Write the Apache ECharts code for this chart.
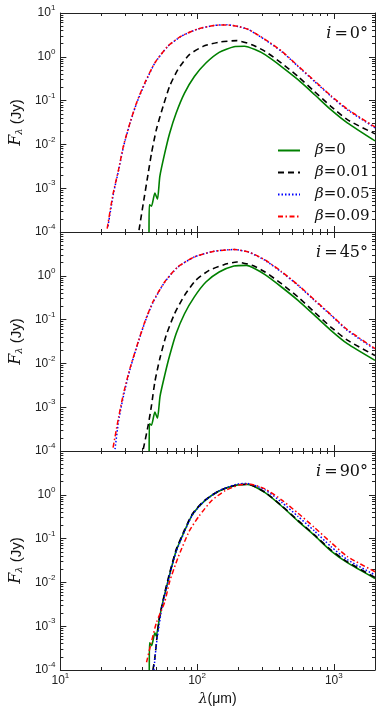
<!DOCTYPE html>
<html>
<head>
<meta charset="utf-8">
<script src="https://cdn.jsdelivr.net/npm/echarts@6/dist/echarts.min.js"></script>
<style>
  html, body { margin: 0; padding: 0; background: #fff; }
  #chart { width: 382px; height: 716px; }
</style>
</head>
<body>
<div id="chart"></div>
<script>
// [wavelength (um), flux (Jy)], one array per curve
const seriesNames = ['β=0', 'β=0.01', 'β=0.05', 'β=0.09'];
const panelLabels = ['0°', '45°', '90°'];

const xMajor = [10, 100, 1000];
const xMinor = [20, 30, 40, 50, 60, 70, 80, 90, 200, 300, 400, 500, 600, 700, 800, 900];
const yMajor = [1e-4, 1e-3, 1e-2, 1e-1, 1, 10];

// i = 0
const i0_b0 = [[44.5, 1.0e-4], [44.7, 4.2e-4], [46.4, 3.9e-4], [49.1, 7.8e-4], [51.3, 5.6e-4], [53.4, 1.86e-3],
  [58, 6.3e-3], [63, 0.018], [70.3, 0.052], [80.9, 0.148], [95.5, 0.355], [116, 0.72], [145, 1.26], [186, 1.70],
  [222, 1.74], [265, 1.46], [314, 1.12], [414, 0.60], [547, 0.30], [721, 0.138], [951, 0.062], [1255, 0.031], [2000, 0.012]];
const i0_b01 = [[37.6, 1.1e-4], [40.4, 4.5e-4], [43.9, 2.2e-3], [46.4, 6.3e-3], [50.4, 0.022], [56.4, 0.074],
  [63, 0.214], [72.3, 0.51], [87.8, 1.12], [113, 1.78], [149, 2.19], [195, 2.34], [252, 1.89], [314, 1.33],
  [414, 0.72], [547, 0.355], [721, 0.162], [951, 0.074], [1255, 0.0367], [2000, 0.0174]];
const i0_b05 = [[22.3, 1.35e-4], [24.5, 7.8e-4], [26.7, 2.6e-3], [29.0, 9.1e-3], [32.4, 0.031], [36.2, 0.089],
  [41.6, 0.25], [49.1, 0.72], [61.2, 1.74], [76.4, 2.93], [101, 4.3], [133, 5.2], [165, 5.4], [200, 4.9],
  [238, 4.17], [314, 2.45], [414, 1.33], [547, 0.605], [721, 0.275], [951, 0.126], [1255, 0.0617], [2000, 0.024]];
const i0_b09 = [[22.0, 1.2e-4], [24.3, 7.5e-4], [26.6, 2.6e-3], [29.0, 9.5e-3], [32.4, 0.032], [36.2, 0.092],
  [41.6, 0.26], [49.1, 0.73], [61.2, 1.76], [76.4, 2.95], [101, 4.3], [133, 5.2], [165, 5.35], [200, 4.95],
  [238, 4.2], [314, 2.5], [414, 1.36], [547, 0.62], [721, 0.285], [951, 0.13], [1255, 0.064], [2000, 0.025]];

// i = 45
const i45_b0 = [[44.6, 1.0e-4], [44.8, 4.2e-4], [46.4, 3.9e-4], [49.1, 7.8e-4], [51.3, 5.6e-4], [53.6, 1.8e-3],
  [58, 5.4e-3], [63, 0.0151], [70.3, 0.048], [80.9, 0.136], [95.5, 0.33], [116, 0.72], [145, 1.22], [186, 1.67],
  [230, 1.73], [265, 1.45], [314, 1.06], [414, 0.555], [547, 0.275], [721, 0.126], [951, 0.0569], [1255, 0.0282], [2000, 0.0117]];
const i45_b01 = [[40.4, 1.1e-4], [43.9, 3.9e-4], [46.4, 1.1e-3], [49.1, 3.8e-3], [53.4, 0.0129], [59.4, 0.0437],
  [68.4, 0.136], [80.9, 0.358], [97.8, 0.79], [122.4, 1.33], [157, 1.79], [195, 2.07], [252, 1.74], [314, 1.22],
  [414, 0.66], [547, 0.328], [721, 0.148], [951, 0.0676], [1255, 0.0339], [2000, 0.0151]];
const i45_b05 = [[25.1, 1.1e-4], [26.7, 5e-4], [29.0, 1.86e-3], [32.4, 7.6e-3], [37.2, 0.031], [41.6, 0.089],
  [47.7, 0.25], [58, 0.72], [72.3, 1.58], [95.5, 2.69], [133, 3.63], [186, 3.98], [238, 3.47], [314, 2.25],
  [414, 1.22], [547, 0.605], [721, 0.275], [951, 0.126], [1255, 0.0569], [2000, 0.0209]];
const i45_b09 = [[24.3, 1.2e-4], [26.7, 6e-4], [29.0, 2.1e-3], [32.4, 8e-3], [37.2, 0.032], [41.6, 0.092],
  [47.7, 0.26], [58, 0.73], [72.3, 1.6], [95.5, 2.7], [133, 3.63], [186, 3.98], [238, 3.5], [314, 2.3],
  [414, 1.25], [547, 0.62], [721, 0.283], [951, 0.13], [1255, 0.059], [2000, 0.0218]];

// i = 90
const i90_b0 = [[44.7, 1.0e-4], [44.8, 4.2e-4], [46.5, 3.6e-4], [49.1, 7.1e-4], [50.2, 6e-4], [52.9, 1.45e-3],
  [54.9, 2.63e-3], [58, 5.4e-3], [63, 0.0151], [70.3, 0.0525], [80.9, 0.149], [92.6, 0.358], [113, 0.72],
  [145, 1.22], [191, 1.64], [235, 1.73], [314, 1.12], [414, 0.555], [547, 0.25], [721, 0.118], [951, 0.0525],
  [1255, 0.0282], [2000, 0.0123]];
const i90_b01 = [[47.5, 1.0e-4], [49.1, 1.9e-4], [51, 6e-4], [52.9, 1.5e-3], [58, 5.8e-3], [63, 0.0165],
  [70.3, 0.056], [80.9, 0.158], [92.6, 0.37], [113, 0.74], [145, 1.24], [191, 1.66], [235, 1.75], [314, 1.14],
  [414, 0.57], [547, 0.26], [721, 0.122], [951, 0.055], [1255, 0.0295], [2000, 0.013]];
const i90_b05 = [[48.3, 1.0e-4], [50.4, 3.9e-4], [52.9, 1.1e-3], [55, 2.5e-3], [58, 5.2e-3], [63, 0.0148],
  [70.3, 0.05], [80.9, 0.145], [92.6, 0.35], [113, 0.72], [145, 1.24], [191, 1.72], [230, 1.82], [314, 1.3],
  [414, 0.68], [547, 0.32], [721, 0.15], [951, 0.066], [1255, 0.033], [2000, 0.0148]];
const i90_b09 = [[42.7, 1.5e-4], [46, 4e-4], [50.4, 1.2e-3], [58, 3.6e-3], [63, 0.0105], [72.3, 0.036],
  [87.8, 0.15], [103.6, 0.33], [128.5, 0.75], [161, 1.25], [207, 1.70], [245, 1.74], [314, 1.36], [414, 0.77],
  [547, 0.38], [721, 0.18], [951, 0.082], [1255, 0.039], [2000, 0.0175]];

const panels = [
  [i0_b0, i0_b01, i0_b05, i0_b09],
  [i45_b0, i45_b01, i45_b05, i45_b09],
  [i90_b0, i90_b01, i90_b05, i90_b09]
];

const yMinor = [];
for (let e = -4; e < 1; e++) {
  for (let m = 2; m <= 9; m++) yMinor.push(+(m * Math.pow(10, e)).toPrecision(3));
}

const frame = '#222';
const gridTop = [13, 232, 451];
const gridH = 219;

const lineStyles = [
  { color: '#008000', width: 1.6, type: 'solid' },
  { color: '#000000', width: 1.6, type: [6, 4] },
  { color: '#0000ff', width: 1.5, type: [1.5, 2] },
  { color: '#ff0000', width: 1.5, type: [5, 2.5, 1.5, 2.5] }
];

const tickRich = {
  b: { fontSize: 12, fontFamily: 'Liberation Sans', color: '#222', lineHeight: 12, verticalAlign: 'bottom' },
  s: { fontSize: 8, fontFamily: 'Liberation Sans', color: '#222', lineHeight: 8, padding: [0, 0, 7, 0], verticalAlign: 'bottom' }
};
function powLabel(v) {
  return '{b|10}{s|' + Math.round(Math.log10(v)) + '}';
}

const grids = [], xAxes = [], yAxes = [], series = [], titles = [];

panels.forEach((curves, g) => {
  grids.push({ left: 56, right: 7, top: gridTop[g], height: gridH });
  const last = g === 2;

  const xDefs = [
    { pos: 'bottom', vals: xMajor, len: 6, label: last, line: true },
    { pos: 'bottom', vals: xMinor, len: 3 },
    { pos: 'top', vals: xMajor, len: 6, line: true },
    { pos: 'top', vals: xMinor, len: 3 }
  ];
  xDefs.forEach((d, k) => {
    xAxes.push({
      type: 'log', logBase: 10, min: 10, max: 2000, gridIndex: g, position: d.pos,
      axisLine: { show: !!d.line, onZero: false, lineStyle: { color: frame, width: 1 } },
      axisTick: { show: true, inside: true, length: d.len, customValues: d.vals, lineStyle: { color: frame, width: 1 } },
      axisLabel: { show: !!d.label, customValues: xMajor, formatter: powLabel, rich: tickRich, margin: 5 },
      splitLine: { show: false },
      name: (last && k === 0) ? '{l|λ}{u|(μm)}' : '',
      nameLocation: 'middle', nameGap: 22,
      nameTextStyle: {
        rich: {
          l: { fontFamily: 'DejaVu Serif', fontStyle: 'italic', fontSize: 14, color: '#111' },
          u: { fontFamily: 'Liberation Sans', fontSize: 14, color: '#111' }
        }
      }
    });
  });

  const yDefs = [
    { pos: 'left', vals: yMajor, len: 6, label: true, line: true },
    { pos: 'left', vals: yMinor, len: 3 },
    { pos: 'right', vals: yMajor, len: 6, line: true },
    { pos: 'right', vals: yMinor, len: 3 }
  ];
  yDefs.forEach((d, k) => {
    yAxes.push({
      type: 'log', logBase: 10, min: 1e-4, max: 10, gridIndex: g, position: d.pos,
      axisLine: { show: !!d.line, onZero: false, lineStyle: { color: frame, width: 1 } },
      axisTick: { show: true, inside: true, length: d.len, customValues: d.vals, lineStyle: { color: frame, width: 1 } },
      axisLabel: {
        show: !!d.label, customValues: g === 0 ? yMajor : yMajor.slice(0, 5),
        formatter: powLabel, rich: tickRich, margin: 5
      },
      splitLine: { show: false },
      name: k === 0 ? '{f|F}{sub|λ}{t| (Jy)}' : '',
      nameLocation: 'middle', nameGap: 34,
      nameTextStyle: {
        rich: {
          f: { fontFamily: 'DejaVu Serif', fontStyle: 'italic', fontSize: 16, color: '#111', lineHeight: 16, verticalAlign: 'bottom' },
          sub: { fontFamily: 'DejaVu Serif', fontStyle: 'italic', fontSize: 10, color: '#111', lineHeight: 10, padding: [6, 0, 0, 0], verticalAlign: 'bottom' },
          t: { fontFamily: 'Liberation Sans', fontSize: 15, color: '#111', lineHeight: 16, verticalAlign: 'bottom' }
        }
      }
    });
  });

  curves.forEach((data, s) => {
    series.push({
      type: 'line', name: seriesNames[s], data: data,
      xAxisIndex: g * 4, yAxisIndex: g * 4,
      symbol: 'none', showSymbol: false, clip: true,
      smooth: 0.2,
      lineStyle: lineStyles[s], itemStyle: { color: lineStyles[s].color },
      animation: false
    });
  });

  titles.push({
    text: '{i|i}{e|=}{v|' + panelLabels[g] + '}',
    right: 14, top: gridTop[g] + 13, padding: 0,
    textStyle: {
      fontWeight: 'normal',
      rich: {
        i: { fontFamily: 'DejaVu Serif', fontStyle: 'italic', fontWeight: 'normal', fontSize: 16, color: '#111' },
        e: { fontFamily: 'DejaVu Serif', fontWeight: 'normal', fontSize: 16, color: '#111', padding: [0, 2, 0, 3] },
        v: { fontFamily: 'DejaVu Serif', fontWeight: 'normal', fontSize: 16, color: '#111' }
      }
    }
  });
});

const chart = echarts.init(document.getElementById('chart'), null, { renderer: 'canvas' });
chart.setOption({
  backgroundColor: '#fff',
  animation: false,
  title: titles,
  legend: {
    data: seriesNames, orient: 'vertical', left: 277, top: 143, padding: 0,
    itemWidth: 22, itemHeight: 14, itemGap: 7,
    itemStyle: { opacity: 0 },
    formatter: n => '{g|β}{e|' + n.slice(1) + '}',
    textStyle: {
      rich: {
        g: { fontFamily: 'DejaVu Serif', fontStyle: 'italic', fontSize: 15, color: '#111', padding: [0, 0, 0, 10] },
        e: { fontFamily: 'DejaVu Serif', fontSize: 15, color: '#111' }
      }
    }
  },
  grid: grids,
  xAxis: xAxes,
  yAxis: yAxes,
  series: series
});
</script>
</body>
</html>
